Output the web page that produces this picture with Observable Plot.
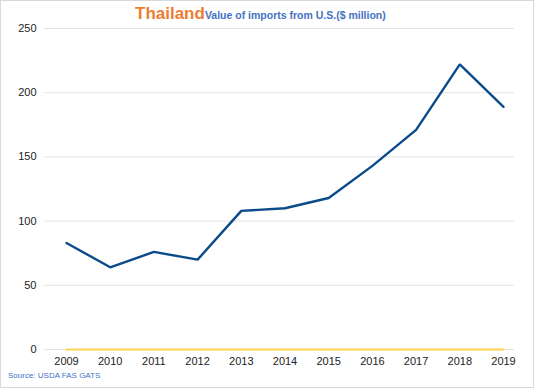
<!DOCTYPE html>
<html><head><meta charset="utf-8">
<script src="https://cdn.jsdelivr.net/npm/d3@7"></script>
<script src="https://cdn.jsdelivr.net/npm/@observablehq/plot@0.6"></script>
<style>
body{margin:0;background:#fff;font-family:"Liberation Sans",Arial,sans-serif;}
#wrap{position:relative;width:534px;height:388px;box-sizing:border-box;border:1px solid #d9d9d9;background:#fff;overflow:hidden;}
#title{position:absolute;left:134px;top:3px;white-space:nowrap;font-weight:bold;}
#title .c{color:#ed7d31;font-size:17px;}
#title .s{color:#4472c4;font-size:10.5px;}
#src{position:absolute;left:7px;top:370px;font-size:8px;color:#4472c4;}
#chart{position:absolute;left:0;top:0;}
</style></head>
<body>
<div id="wrap">
<div id="chart"></div>
<div id="title"><span class="c">Thailand</span><span class="s">Value of imports from U.S.($ million)</span></div>
<div id="src">Source: USDA FAS GATS</div>
</div>
<script>
const years = [2009,2010,2011,2012,2013,2014,2015,2016,2017,2018,2019];
const imports = [83,64,76,70,108,110,118,143,171,222,189];
const other = [0,0,0,0,0,0,0,0,0,0,0];
const yTicks = [0,50,100,150,200,250];

const main = years.map((y,i)=>({year:y, value:imports[i]}));
const base = years.map((y,i)=>({year:y, value:other[i]}));

const chart = Plot.plot({
  width: 532,
  height: 386,
  marginTop: 27,
  marginBottom: 38,
  marginLeft: 43,
  marginRight: 19,
  insetLeft: 22,
  insetRight: 11,
  style:{fontFamily:'"Liberation Sans",Arial,sans-serif', fontSize:"11px", color:"#222", background:"transparent"},
  x:{domain:[2009,2019], ticks:years, tickFormat:d=>String(d), label:null, tickSize:0, tickPadding:8},
  y:{domain:[0,250], ticks:yTicks, label:null, tickSize:0, tickPadding:8},
  marks:[
    Plot.ruleY(yTicks,{stroke:"#e3e3e3", strokeWidth:1}),
    Plot.axisX({ticks:years, tickFormat:d=>String(d), tickSize:0, tickPadding:8, label:null}),
    Plot.axisY({ticks:yTicks, tickSize:0, tickPadding:8, label:null}),
    Plot.line(base,{x:"year", y:"value", stroke:"#ffd24d", strokeWidth:2.2}),
    Plot.line(main,{x:"year", y:"value", stroke:"#0b4a8b", strokeWidth:2.4, strokeLinejoin:"miter"})
  ]
});
document.getElementById("chart").appendChild(chart);
</script>
</body></html>
